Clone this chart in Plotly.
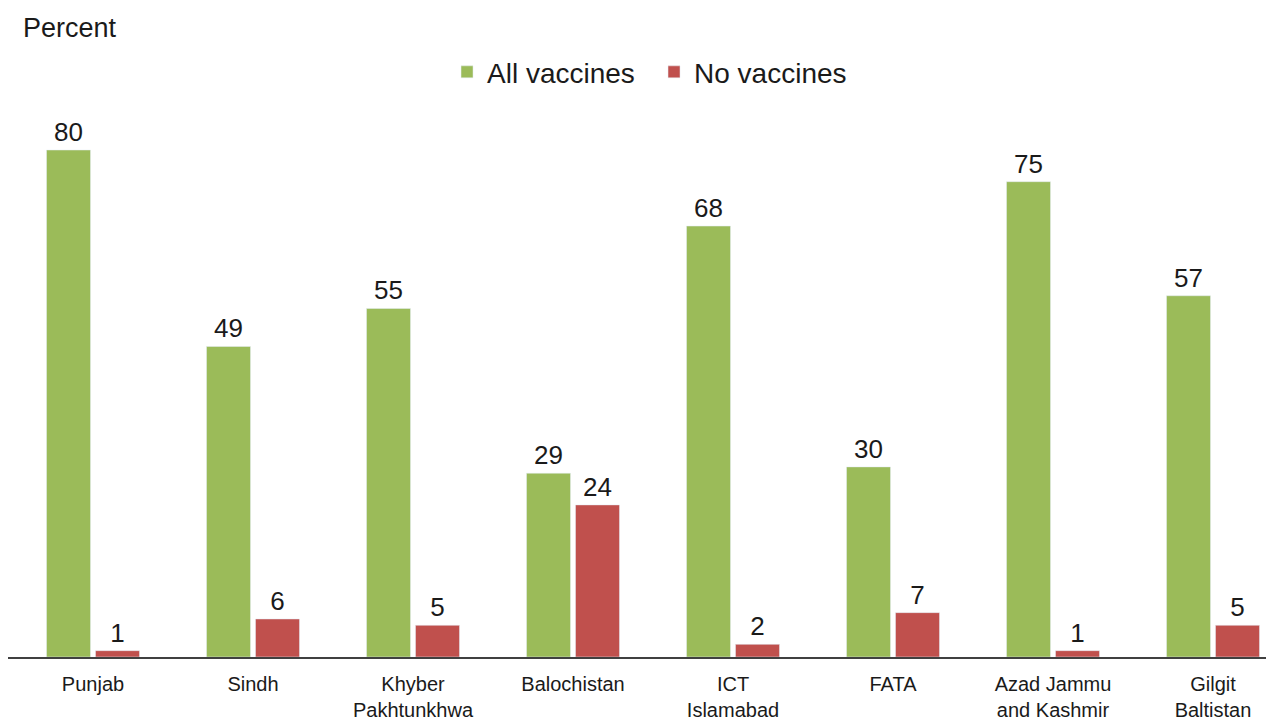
import plotly.graph_objects as go

categories = ["Punjab", "Sindh", "Khyber<br>Pakhtunkhwa", "Balochistan", "ICT<br>Islamabad",
              "FATA", "Azad Jammu<br>and Kashmir", "Gilgit<br>Baltistan"]
all_vaccines = [80, 49, 55, 29, 68, 30, 75, 57]
no_vaccines = [1, 6, 5, 24, 2, 7, 1, 5]

GREEN = "#9BBB59"
RED = "#C0504D"
FONT = "Liberation Sans, Arial, sans-serif"
TXT = "#1a1a1a"

fig = go.Figure()
fig.add_trace(go.Bar(name="All vaccines", x=categories, y=all_vaccines, marker_color=GREEN,
                     text=all_vaccines, textposition="outside", cliponaxis=False,
                     textfont=dict(size=26, color=TXT, family=FONT)))
fig.add_trace(go.Bar(name="No vaccines", x=categories, y=no_vaccines, marker_color=RED,
                     text=no_vaccines, textposition="outside", cliponaxis=False,
                     textfont=dict(size=26, color=TXT, family=FONT)))

fig.update_layout(
    width=1274, height=723,
    margin=dict(l=0, r=0, t=92, b=74),
    paper_bgcolor="white", plot_bgcolor="white",
    barmode="group", bargap=0.3875, bargroupgap=0.102,
    font=dict(family=FONT, color=TXT, size=20),
    showlegend=True,
    legend=dict(orientation="h", x=0.3446, xanchor="left", y=1.05, yanchor="middle",
                font=dict(size=28, family=FONT, color=TXT), itemwidth=30,
                entrywidth=162, entrywidthmode="pixels",
                bgcolor="rgba(0,0,0,0)"),
    xaxis=dict(range=[-0.53125, 7.43125], showline=True, linecolor="#404040", linewidth=2,
               ticks="", showgrid=False, zeroline=False, ticklabelstandoff=8,
               tickfont=dict(size=20, family=FONT, color=TXT)),
    yaxis=dict(range=[0, 87.89], visible=False, showgrid=False, zeroline=False),
    annotations=[dict(text="Percent", xref="paper", yref="paper", x=0.0102, y=1.129,
                      xanchor="left", yanchor="middle", showarrow=False,
                      font=dict(size=27, family=FONT, color=TXT))],
)

fig.write_html("out.html")
